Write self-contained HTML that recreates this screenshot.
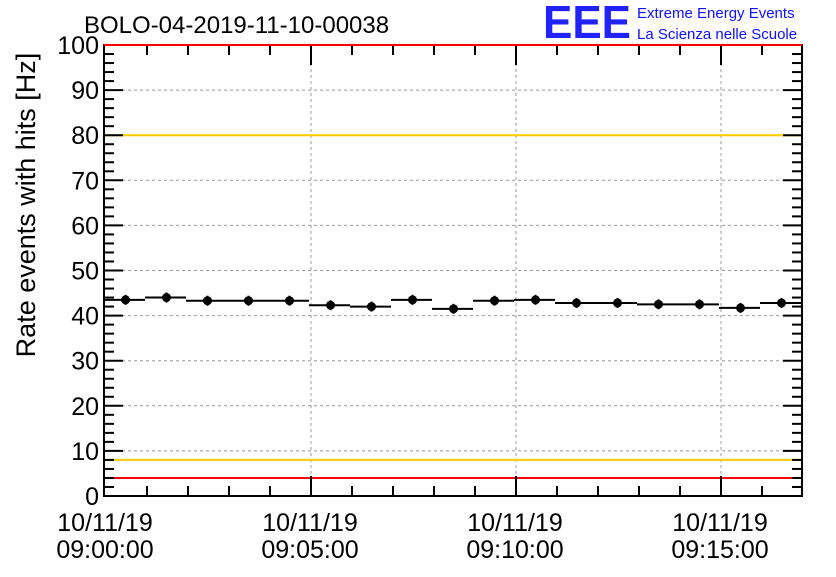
<!DOCTYPE html>
<html><head><meta charset="utf-8"><style>
body{margin:0;background:#fff}
svg text{font-family:"Liberation Sans",sans-serif}
</style></head><body>
<svg width="836" height="572" viewBox="0 0 836 572">
<rect width="836" height="572" fill="#fff"/>
<g id="grid"></g>
<g id="lines"></g>
<g id="ticks"></g>
<g id="data"></g>
<g id="labels"></g>
<rect x="104" y="45" width="698" height="451" fill="none" stroke="#000" stroke-width="2"/>
<line x1="104" y1="45" x2="802" y2="45" stroke="#f00" stroke-width="2"/>
<text x="84" y="33" font-size="24">BOLO-04-2019-11-10-00038</text>
<text x="28" y="205" font-size="27" transform="rotate(-90 28 205)" text-anchor="middle" dominant-baseline="middle">Rate events with hits [Hz]</text>
<text x="543" y="38" font-size="46" font-weight="bold" fill="#2222ff" textLength="88" lengthAdjust="spacingAndGlyphs">EEE</text>
<text x="637" y="18" font-size="15" fill="#1010ff">Extreme Energy Events</text>
<text x="637" y="39" font-size="15" fill="#1010ff">La Scienza nelle Scuole</text>
</svg>
<script>
const values=[43.5,44,43.3,43.3,43.3,42.3,42,43.5,41.5,43.3,43.5,42.8,42.8,42.5,42.5,41.7,42.8];
const yTicks=[0,10,20,30,40,50,60,70,80,90,100];
const xMajorMinutes=[0,5,10,15];
const xLabelsDate=["10/11/19","10/11/19","10/11/19","10/11/19"];
const xLabelsTime=["09:00:00","09:05:00","09:10:00","09:15:00"];
const redLevels=[4];
const yellowLevels=[80,8];
const NS="http://www.w3.org/2000/svg";
const X0=104,X1=802,Y0=496,Y1=45;
const xs=m=>106+m*41;
const ys=v=>Y0-(v/100)*(Y0-Y1);
function mk(t,a,p){const e=document.createElementNS(NS,t);for(const k in a)e.setAttribute(k,a[k]);p.appendChild(e);return e;}
const G=document.getElementById('grid'),L=document.getElementById('lines'),T=document.getElementById('ticks'),D=document.getElementById('data'),Lb=document.getElementById('labels');
yTicks.forEach(v=>{
 if(v>0&&v<100){const l=mk('line',{x1:X0,x2:X1,y1:ys(v),y2:ys(v),stroke:'#999','stroke-dasharray':'3,3'},G);
 
 }
 const t=mk('text',{x:99,y:ys(v)+9,'font-size':25,'text-anchor':'end'},Lb);t.textContent=v;
 
 
});
for(let v=0;v<=100;v+=2){const len=v%10===0?19:10;
 mk('line',{x1:X0,x2:X0+len,y1:ys(v),y2:ys(v),stroke:'#000','stroke-width':2},T);
 mk('line',{x1:X1,x2:X1-len,y1:ys(v),y2:ys(v),stroke:'#000','stroke-width':2},T);}
for(let m=1;m<=16;m++){const x=xs(m);const len=m%5===0?20:10;
 mk('line',{x1:x,x2:x,y1:Y0,y2:Y0-len,stroke:'#000','stroke-width':2},T);
 mk('line',{x1:x,x2:x,y1:Y1,y2:Y1+len,stroke:'#000','stroke-width':2},T);}
xMajorMinutes.forEach((m,i)=>{const x=xs(m);
 if(m>0){const g=mk('line',{x1:x,x2:x,y1:Y1,y2:Y0,stroke:'#999','stroke-dasharray':'3,3'},G);
 
 }
 const a=mk('text',{x:x-1,y:531,'font-size':25,'text-anchor':'middle'},Lb);a.textContent=xLabelsDate[i];
 
 
 const b=mk('text',{x:x-1,y:558,'font-size':25,'text-anchor':'middle'},Lb);b.textContent=xLabelsTime[i];
 
 
});
redLevels.forEach(v=>{const l=mk('line',{x1:X0,x2:X1,y1:ys(v),y2:ys(v),stroke:'#f00','stroke-width':2},L);
 
 });
yellowLevels.forEach(v=>{const l=mk('line',{x1:X0,x2:X1,y1:ys(v),y2:ys(v),stroke:'#fc0','stroke-width':2},L);
 
 });
values.forEach((v,i)=>{const xa=Math.max(X0,xs(i)-2),xb=Math.min(X1,xs(i+1)-2),xc=xs(i)+19.5,y=ys(v);
 const b=mk('line',{x1:xa,x2:xb,y1:y,y2:y,stroke:'#000','stroke-width':2},D);
 
 
 const e=mk('line',{x1:xc,x2:xc,y1:y-5,y2:y+5,stroke:'#000','stroke-width':2},D);
 
 
 const c=mk('circle',{cx:xc,cy:y,r:4.5,fill:'#000'},D);
 
 
});
</script>
</body></html>
